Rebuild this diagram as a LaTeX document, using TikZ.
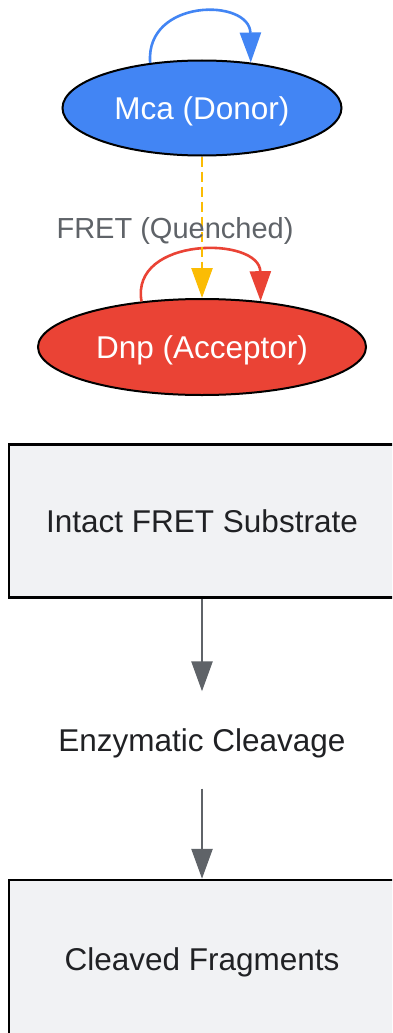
\documentclass[tikz,border=0pt]{standalone}
\usepackage{fontspec}
\setmainfont{Liberation Sans}
\usepackage{tikz}
\usetikzlibrary{arrows.meta,shapes,positioning}
\usepackage{xcolor}
\definecolor{fblue}{RGB}{66,133,244}
\definecolor{fred}{RGB}{234,67,53}
\definecolor{fyellow}{RGB}{251,188,4}
\definecolor{fgray}{RGB}{95,99,104}
\definecolor{fbox}{RGB}{241,242,244}
\definecolor{ftext}{RGB}{32,33,36}
\tikzstyle{dye} = [ellipse, draw=black, line width=2pt, inner sep=0pt, text depth=0pt, text=white, font=\fontsize{31.5}{37}\selectfont]
\tikzstyle{stage} = [rectangle, draw=black, line width=2.5pt, fill=fbox, minimum width=386pt, minimum height=153pt, text depth=0pt, text=ftext, font=\fontsize{31.5}{37}\selectfont]
\tikzstyle{flow} = [line width=2.6pt, -{Triangle[length=30pt,width=21pt]}]

\begin{document}
\begin{tikzpicture}[x=1pt, y=-1pt]
\useasboundingbox (0,0) rectangle (392,1033);
\clip (0,0) rectangle (392,1033);
\fill[white] (0,0) rectangle (392,1033);

% Dyes
\node[dye, fill=fblue, minimum width=279pt, minimum height=95pt] (mca) at (202,108) {Mca (Donor)};
\node[dye, fill=fred, minimum width=328pt, minimum height=96pt] (dnp) at (202,347) {Dnp (Acceptor)};

% Self loops
\draw[flow, fblue] (mca.139) .. controls (145,-2) and (250,-2) .. (mca.43);
\draw[flow, fred] (dnp.143) .. controls (130,236) and (260,236) .. (dnp.38);

% Energy transfer
\draw[flow, fyellow, dash pattern=on 10pt off 5pt] (mca) -- (dnp);
\node[text=fgray, text depth=0pt, font=\fontsize{29}{34}\selectfont] (fret) at (175,228) {FRET (Quenched)};

% Cleavage steps
\node[stage] (intact) at (202,521) {Intact FRET Substrate};
\node[text=ftext, text depth=0pt, font=\fontsize{31.5}{37}\selectfont, inner sep=0pt, minimum height=97pt] (enz) at (202,740) {Enzymatic Cleavage};
\node[stage, minimum height=158pt] (cleaved) at (202,959) {Cleaved Fragments};

\draw[flow, fgray] (intact) -- (enz);
\draw[flow, fgray] (enz) -- (cleaved);
\end{tikzpicture}
\end{document}
